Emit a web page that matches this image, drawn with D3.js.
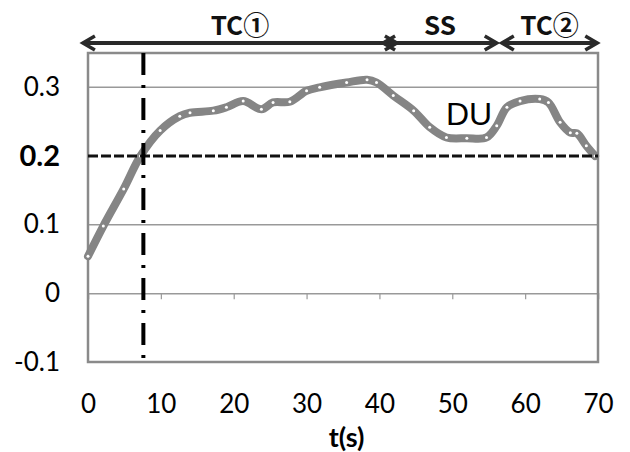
<!DOCTYPE html>
<html>
<head>
<meta charset="utf-8">
<script src="https://cdn.jsdelivr.net/npm/d3@7"></script>
<style>
  body { margin: 0; background: #fff; }
  svg { display: block; }
</style>
</head>
<body>
<svg width="630" height="452"></svg>
<script>
// time (s) and DU values
var tVals = [0, 2.1, 4.9, 7.2, 9.9, 12.6, 14, 17.2, 19, 21.3, 23.8, 25.4, 27.7, 30, 31.8, 35.5, 38.3, 39.6, 41.9, 44.7, 46.9, 49.2, 52, 54.7, 56.1, 57.5, 59.3, 62, 63.2, 64.8, 66.2, 67.1, 68.4, 69.6];
var duVals = [0.054, 0.098, 0.152, 0.2, 0.237, 0.258, 0.263, 0.266, 0.271, 0.28, 0.268, 0.278, 0.279, 0.295, 0.3, 0.307, 0.311, 0.307, 0.288, 0.266, 0.242, 0.227, 0.226, 0.227, 0.244, 0.271, 0.28, 0.283, 0.278, 0.249, 0.234, 0.233, 0.215, 0.2];

var xTicks = [0, 10, 20, 30, 40, 50, 60, 70];
var yTicks = [-0.1, 0, 0.1, 0.2, 0.3];
var yTickLabels = ["-0.1", "0", "0.1", "0.2", "0.3"];
var gridVals = [0.1, 0.3];
var threshold = 0.2;
var markT = 7.6;

// phase arrows (start, end in seconds)
var phaseLabels = ["TC①", "SS", "TC②"];
var phaseStart = [-0.7, 40.5, 56.8];
var phaseEnd = [42.4, 56.1, 69.9];

var svg = d3.select("svg"),
  margin = { top: 53, right: 32, bottom: 90, left: 88 },
  width = +svg.attr("width") - margin.left - margin.right,
  height = +svg.attr("height") - margin.top - margin.bottom;

var x = d3.scaleLinear().domain([0, 70]).range([0, width]);
var y = d3.scaleLinear().domain([-0.1, 0.35]).range([height, 0]);

var g = svg.append("g").attr("transform", "translate(" + margin.left + "," + margin.top + ")");

// gridlines
g.selectAll(".grid")
  .data(gridVals)
  .enter()
  .append("line")
  .attr("x1", 0)
  .attr("x2", width)
  .attr("y1", function (d) { return y(d); })
  .attr("y2", function (d) { return y(d); })
  .attr("stroke", "#999")
  .attr("stroke-width", 1.5);

// zero line with small ticks
var zeroAxis = g.append("g")
  .attr("transform", "translate(0," + y(0) + ")")
  .call(d3.axisBottom(x).tickValues([10, 20, 30, 40, 50, 60]).tickSize(6).tickFormat(""));
zeroAxis.select(".domain").attr("stroke", "#999").attr("stroke-width", 1.5);
zeroAxis.selectAll(".tick line").attr("stroke", "#999").attr("stroke-width", 1.2);

// frame
g.append("rect")
  .attr("width", width)
  .attr("height", height)
  .attr("fill", "none")
  .attr("stroke", "#8a8a8a")
  .attr("stroke-width", 2.5);

// y axis labels
var yAxis = g.append("g")
  .call(d3.axisLeft(y).tickValues(yTicks).tickSize(0).tickPadding(28).tickFormat(function (d, i) { return yTickLabels[i]; }));
yAxis.select(".domain").remove();
yAxis.selectAll("text")
  .attr("font-family", "Lato, sans-serif")
  .attr("font-size", function (d) { return d === threshold ? "29px" : "26px"; })
  .attr("font-weight", function (d) { return d === threshold ? "bold" : "normal"; })
  .attr("fill", "#000");

// x axis labels
var xAxis = g.append("g")
  .attr("transform", "translate(0," + height + ")")
  .call(d3.axisBottom(x).tickValues(xTicks).tickSize(0).tickFormat(d3.format("d")));
xAxis.select(".domain").remove();
xAxis.selectAll("text")
  .attr("y", 51)
  .attr("dy", 0)
  .attr("font-family", "Lato, sans-serif")
  .attr("font-size", "26px")
  .attr("fill", "#000");

svg.append("text")
  .attr("x", margin.left + x(35.5))
  .attr("y", 447)
  .attr("text-anchor", "middle")
  .attr("font-family", "Lato, sans-serif")
  .attr("font-weight", "bold")
  .attr("font-size", "27px")
  .attr("fill", "#000")
  .text("t(s)");

// DU curve
var data = tVals.map(function (t, i) { return { t: t, v: duVals[i] }; });
var line = d3.line()
  .x(function (d) { return x(d.t); })
  .y(function (d) { return y(d.v); })
  .curve(d3.curveCatmullRom);

g.append("path")
  .datum(data)
  .attr("fill", "none")
  .attr("stroke", "#858585")
  .attr("stroke-width", 8)
  .attr("stroke-linejoin", "round")
  .attr("stroke-linecap", "round")
  .attr("d", line);

g.selectAll(".dot")
  .data(data)
  .enter()
  .append("circle")
  .attr("cx", function (d) { return x(d.t); })
  .attr("cy", function (d) { return y(d.v); })
  .attr("r", 1.5)
  .attr("fill", "#fff");

// threshold dashed line
g.append("line")
  .attr("x1", 0)
  .attr("x2", width)
  .attr("y1", y(threshold))
  .attr("y2", y(threshold))
  .attr("stroke", "#111")
  .attr("stroke-width", 3)
  .attr("stroke-dasharray", "10,3");

// vertical dash-dot marker
g.append("line")
  .attr("x1", x(markT))
  .attr("x2", x(markT))
  .attr("y1", 0)
  .attr("y2", height)
  .attr("stroke", "#000")
  .attr("stroke-width", 4)
  .attr("stroke-dasharray", "22,10,3,10");

g.append("text")
  .attr("x", x(52.3))
  .attr("y", 72)
  .attr("text-anchor", "middle")
  .attr("font-family", "Liberation Sans, Arial, sans-serif")
  .attr("font-size", "32px")
  .attr("fill", "#000")
  .text("DU");

// phase arrows above the plot
var arrowY = -10;
var head = 12, half = 7;
phaseLabels.forEach(function (label, i) {
  var x1 = x(phaseStart[i]), x2 = x(phaseEnd[i]);
  var ag = g.append("g").attr("stroke", "#2a2a2a").attr("fill", "none");
  ag.append("line")
    .attr("x1", x1 + 1)
    .attr("x2", x2 - 1)
    .attr("y1", arrowY)
    .attr("y2", arrowY)
    .attr("stroke-width", 4);
  ag.append("path")
    .attr("d", "M" + (x1 + head) + "," + (arrowY - half) + "L" + x1 + "," + arrowY + "L" + (x1 + head) + "," + (arrowY + half))
    .attr("stroke-width", 3.5);
  ag.append("path")
    .attr("d", "M" + (x2 - head) + "," + (arrowY - half) + "L" + x2 + "," + arrowY + "L" + (x2 - head) + "," + (arrowY + half))
    .attr("stroke-width", 3.5);
  g.append("text")
    .attr("x", (x1 + x2) / 2)
    .attr("y", -18)
    .attr("text-anchor", "middle")
    .attr("font-family", "Noto Sans CJK JP, sans-serif")
    .attr("font-weight", "bold")
    .attr("font-size", "26px")
    .attr("fill", "#111")
    .text(label);
});
</script>
</body>
</html>
